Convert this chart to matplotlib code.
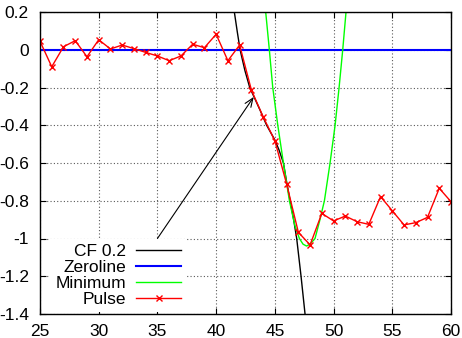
import numpy as np
import matplotlib
matplotlib.use("Agg")
import matplotlib.pyplot as plt
from matplotlib.ticker import FuncFormatter

# Pulse samples (one per x unit)
pulse_x = np.arange(25, 61)
pulse_y = [0.045, -0.09, 0.016, 0.048, -0.037, 0.053, 0.004, 0.025, 0.006, -0.014,
           -0.033, -0.058, -0.033, 0.029, 0.011, 0.082, -0.058, 0.025, -0.213, -0.355,
           -0.482, -0.711, -0.967, -1.034, -0.867, -0.907, -0.881, -0.911, -0.925, -0.778,
           -0.853, -0.928, -0.916, -0.888, -0.734, -0.805]

# CF 0.2 curve
cf_x = [41.3, 41.55, 41.8, 42.04, 42.45, 42.86, 43.2, 43.74, 44.3, 45.0, 45.35, 45.73,
        46.0, 46.3, 46.6, 46.86, 47.23, 47.57, 47.8]
cf_y = [0.3, 0.2, 0.095, 0.0, -0.11, -0.2, -0.246, -0.32, -0.4, -0.478, -0.53, -0.6,
        -0.7, -0.8, -0.9, -1.0, -1.2, -1.4, -1.55]

# Minimum curve (parabola-like)
min_x = [44.1, 44.22, 44.53, 44.82, 45.25, 45.73, 46.24, 46.7, 47.09, 47.4, 47.7,
         48.0, 48.42, 48.8, 49.22, 49.7, 50.13, 50.47, 50.78, 51.06, 51.2]
min_y = [0.3, 0.2, 0.0, -0.2, -0.4, -0.6, -0.8, -0.93, -1.0, -1.03, -1.04,
         -1.03, -1.0, -0.91, -0.8, -0.6, -0.4, -0.2, 0.0, 0.2, 0.3]

zero_x = [25, 60]
zero_y = [0, 0]

# arrow from (35,-1) to the curve
arrow_tail = (35, -1.0)
arrow_head = (43.2, -0.25)


def main():
    plt.rcParams['font.family'] = ['Liberation Sans', 'DejaVu Sans']
    plt.rcParams['font.size'] = 12.5
    plt.rcParams['axes.unicode_minus'] = False

    fig = plt.figure(figsize=(4.62, 3.38), dpi=100)
    ax = fig.add_axes([40 / 462, 24 / 338, 411 / 462, 302 / 338])

    ax.plot(cf_x, cf_y, color='black', lw=1.0, label='CF 0.2')
    ax.plot(zero_x, zero_y, color='#0000ff', lw=1.5, label='Zeroline')
    ax.plot(min_x, min_y, color='#00ff00', lw=1.0, label='Minimum')
    ax.plot(pulse_x, pulse_y, color='red', lw=1.0, marker='x', ms=4, mew=1.0,
            label='Pulse')

    ax.annotate('', xy=arrow_head, xytext=arrow_tail,
                arrowprops=dict(arrowstyle='->,head_length=0.5,head_width=0.2',
                                color='black', lw=0.8, shrinkA=0, shrinkB=0))

    ax.set_xlim(25, 60)
    ax.set_ylim(-1.4, 0.2)
    ax.set_xticks(np.arange(25, 61, 5))
    ax.set_yticks(np.linspace(-1.4, 0.2, 9))
    fmt = FuncFormatter(lambda v, p: '%g' % round(v, 6) if abs(v) > 1e-9 else '0')
    ax.xaxis.set_major_formatter(fmt)
    ax.yaxis.set_major_formatter(fmt)
    ax.tick_params(direction='in', length=4, width=0.8, top=True, right=True,
                   labelsize=12.5)
    ax.tick_params(axis='y', pad=8)
    ax.tick_params(axis='x', pad=7.5)
    ax.grid(True, color='0.35', linestyle=(0, (1, 2)), lw=0.8)
    for sp in ax.spines.values():
        sp.set_linewidth(1.0)

    leg = ax.legend(loc='lower left', bbox_to_anchor=(0.02, 0.0), markerfirst=False,
                    handlelength=2.6, labelspacing=0.05, borderpad=0.3,
                    handletextpad=0.6, numpoints=1, fancybox=False,
                    framealpha=1.0, edgecolor='white', borderaxespad=0.1)
    leg.get_frame().set_linewidth(0)

    fig.savefig('out.png', dpi=100)


if __name__ == '__main__':
    main()
